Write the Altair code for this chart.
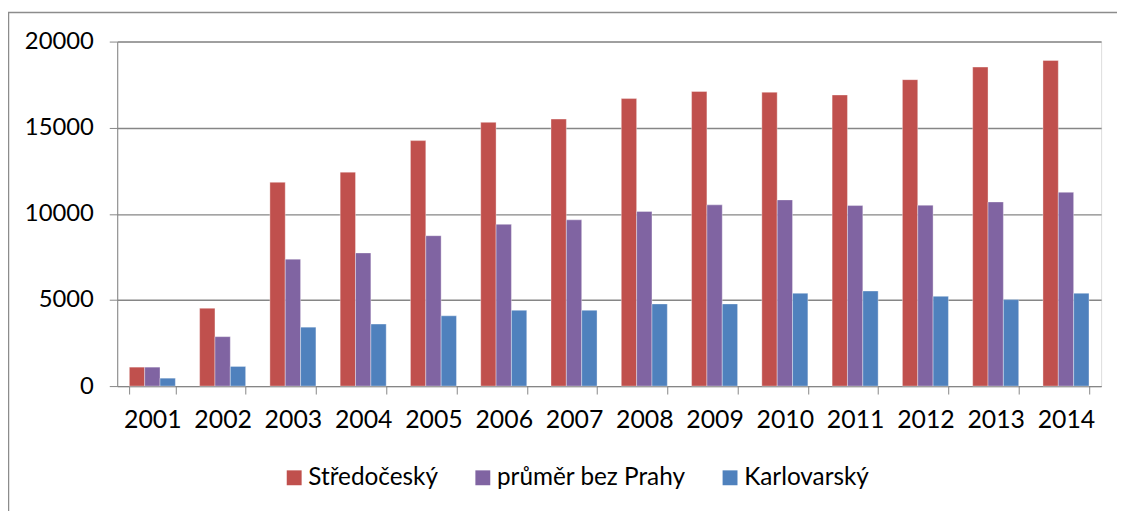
import altair as alt
import pandas as pd

years = ["2001", "2002", "2003", "2004", "2005", "2006", "2007",
         "2008", "2009", "2010", "2011", "2012", "2013", "2014"]
series = ["Středočeský", "průměr bez Prahy", "Karlovarský"]
stredocesky = [1100, 4520, 11830, 12420, 14250, 15310, 15500,
               16690, 17100, 17060, 16900, 17790, 18520, 18900]
prumer = [1100, 2870, 7370, 7730, 8730, 9390, 9650,
          10140, 10520, 10810, 10480, 10500, 10690, 11250]
karlovarsky = [460, 1140, 3420, 3600, 4080, 4400, 4400,
               4770, 4770, 5390, 5520, 5210, 5020, 5390]
colors = ["#C0504D", "#8064A2", "#4F81BD"]

rows = []
for name, vals in zip(series, [stredocesky, prumer, karlovarsky]):
    for y, v in zip(years, vals):
        rows.append({"rok": y, "rada": name, "hodnota": v})
df = pd.DataFrame(rows)

FONT = "Lato"

bars = alt.Chart(df).mark_bar(stroke="#ffffff", strokeOpacity=0.45, strokeWidth=0.8).encode(
    x=alt.X("rok:N", sort=years,
            scale=alt.Scale(paddingInner=0.345, paddingOuter=0.1725),
            axis=alt.Axis(title=None, labelAngle=0, tickBand="extent",
                          tickSize=8, labelPadding=14, grid=False,
                          domainColor="#868686", tickColor="#868686",
                          labelFontSize=25, labelFont=FONT, labelColor="#000000")),
    xOffset=alt.XOffset("rada:N", sort=series, scale=alt.Scale(paddingInner=0, paddingOuter=0)),
    y=alt.Y("hodnota:Q", scale=alt.Scale(domain=[0, 20000], nice=False),
            axis=alt.Axis(title=None, values=[0, 5000, 10000, 15000, 20000], format="d",
                          tickSize=8, labelPadding=16, grid=True,
                          gridColor="#868686", gridWidth=1.4,
                          domainColor="#868686", tickColor="#868686",
                          labelFontSize=24, labelFont=FONT, labelColor="#000000")),
    color=alt.Color("rada:N", sort=series,
                    scale=alt.Scale(domain=series, range=colors),
                    legend=alt.Legend(title=None, orient="none", legendX=166, legendY=427,
                                      direction="horizontal", symbolType="square",
                                      symbolSize=225, symbolStrokeWidth=0,
                                      labelFontSize=24.5, labelFont=FONT, labelColor="#000000",
                                      labelLimit=0, labelOffset=2, columnPadding=32, padding=0)),
)

frame_df = pd.DataFrame({"f": [1]})
frame = alt.Chart(frame_df).mark_rect(fill="transparent", stroke="#8c8c8c", strokeWidth=1.5).encode(
    x=alt.value(-109.5), x2=alt.value(1200), y=alt.value(-29.3), y2=alt.value(700)
)

chart = alt.layer(frame, bars).properties(
    width=991, height=347,
    autosize=alt.AutoSizeParams(type="none"),
    padding={"left": 110, "top": 32, "right": 16, "bottom": 124},
).configure_view(stroke=None).configure(background="#ffffff")

chart.save("out.html", embed_options={"renderer": "svg", "actions": False})
